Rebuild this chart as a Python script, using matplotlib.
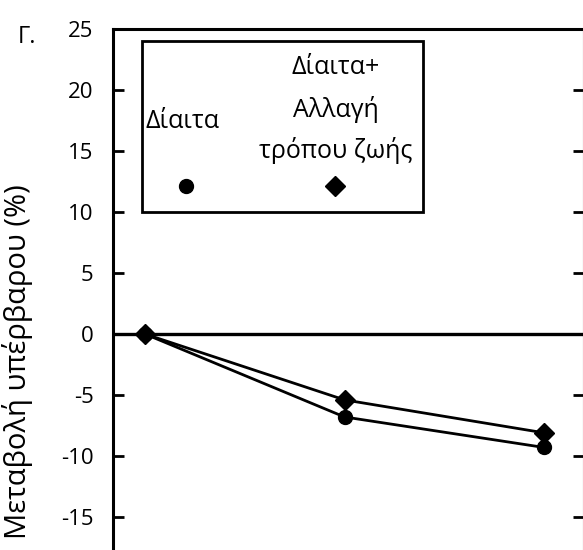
import numpy as np
import matplotlib
matplotlib.use("Agg")
import matplotlib.pyplot as plt
from matplotlib.patches import Rectangle
from matplotlib.lines import Line2D

plt.rcParams['font.family'] = ['Open Sans', 'DejaVu Sans']

# Data
timepoints = [0, 1, 2]
diet = [0.0, -6.8, -9.3]
diet_lifestyle = [0.0, -5.4, -8.1]
yticks = [25, 20, 15, 10, 5, 0, -5, -10, -15]
ylabel = "Μεταβολή υπέρβαρου (%)"
panel = "Γ."
label_diet = "Δίαιτα"
label_combo = ["Δίαιτα+", "Αλλαγή", "τρόπου ζωής"]

W, H = 583, 550
fig = plt.figure(figsize=(W / 100, H / 100), dpi=100)

def fx(px):
    return px / W

def fy(py):
    return 1 - py / H

# axes extends past the crop on the right and bottom, like the scan
left, right, top, zero_y = 113, 584, 29, 334
scale = (zero_y - top) / 25.0
bottom = zero_y + 25 * scale
ax = fig.add_axes([fx(left), fy(bottom), (right - left) / W, (bottom - top) / H])

ax.set_ylim(-25, 25)
ax.set_xlim(-0.16, 2.2)

ax.axhline(0, color='black', lw=2.4, zorder=1)
ax.plot(timepoints, diet, color='black', lw=2, marker='o', ms=10, zorder=3)
ax.plot(timepoints, diet_lifestyle, color='black', lw=2, marker='D', ms=10, zorder=4)

for s in ax.spines.values():
    s.set_linewidth(2.2)

ax.set_yticks(yticks)
ax.set_yticklabels([str(v) for v in yticks])
ax.tick_params(axis='y', direction='in', length=8, width=2, labelsize=16,
               pad=14, right=True, labelright=False)
ax.set_xticks([])

fig.text(fx(18), fy(37), panel, fontsize=17, ha='left', va='center')
fig.text(fx(18), fy(184), ylabel, fontsize=21, rotation=90, ha='center', va='top')

# hand-made legend box
fig.patches.append(Rectangle((fx(142), fy(212)), fx(423) - fx(142), fy(41) - fy(212),
                             transform=fig.transFigure, fill=False, lw=2, ec='black'))
fig.text(fx(182), fy(121), label_diet, fontsize=18, ha='center', va='center')
for i, line in enumerate(label_combo):
    fig.text(fx(336), fy(67 + 42 * i), line, fontsize=18, ha='center', va='center')
fig.add_artist(Line2D([fx(186)], [fy(186)], marker='o', ms=10, color='black',
                      transform=fig.transFigure))
fig.add_artist(Line2D([fx(335)], [fy(186)], marker='D', ms=10, color='black',
                      transform=fig.transFigure))

fig.savefig("out.png", dpi=100)
